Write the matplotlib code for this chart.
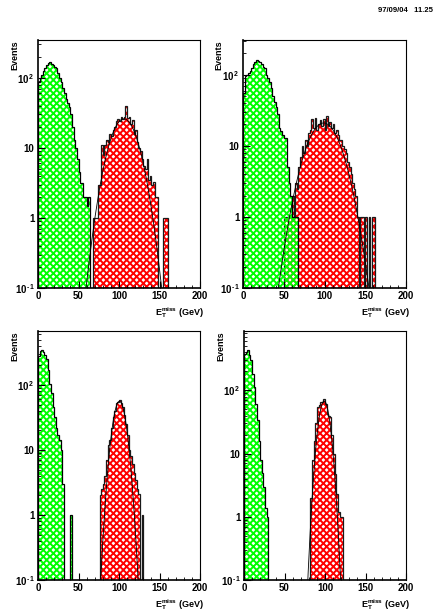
import numpy as np
import matplotlib
matplotlib.use("Agg")
import matplotlib.pyplot as plt
from matplotlib.ticker import FixedLocator, FixedFormatter, MultipleLocator, LogLocator, NullFormatter

plt.rcParams["font.family"] = ["Liberation Sans", "DejaVu Sans"]
plt.rcParams["font.weight"] = "bold"
plt.rcParams["mathtext.fontset"] = "custom"
plt.rcParams["mathtext.rm"] = "Liberation Sans:bold"
plt.rcParams["mathtext.it"] = "Liberation Sans:bold"
plt.rcParams["mathtext.bf"] = "Liberation Sans:bold"
plt.rcParams["mathtext.default"] = "rm"
plt.rcParams["hatch.linewidth"] = 1.4

BIN_WIDTH = 2.0  # GeV

# Background (green) and signal (red) missing-ET histograms, 2 GeV bins
green_tl_start = 0
green_tl = [88, 98, 110, 125, 140, 150, 165, 170, 160, 152, 145, 138, 118, 100, 88, 72,
            60, 50, 44, 38, 30, 20, 13, 10, 7, 4.5, 3.2, 3.2, 2, 2, 1.5, 2]
red_tl_start = 68
red_tl = [1, 1, 1, 3, 3, 11, 8, 11, 13, 12, 16, 15, 18, 20, 24, 26, 24, 28, 26, 28, 40, 27,
          28, 22, 25, 16, 18, 12, 10, 9, 7, 5.5, 5, 7, 3.5, 4, 3, 3.3, 2, 2, 0, 0, 0, 1, 1, 1]

green_tr_start = 0
green_tr = [55, 95, 100, 105, 115, 125, 140, 150, 160, 155, 150, 140, 130, 125, 100, 90,
            78, 65, 50, 42, 35, 28, 18, 16, 14, 13, 13, 5, 3, 2, 1, 1, 1, 1]
red_tr_start = 50
red_tr = [1, 1, 1, 1, 1, 2, 1, 3, 2.5, 5, 7, 10, 8, 12, 10, 15, 17, 24, 18, 25, 17, 20, 23,
          19, 24, 17, 26, 19, 22, 18, 20, 15, 17, 14, 12, 12, 10, 9, 8, 6, 5, 4, 3, 2.5, 2,
          1, 0, 1, 1, 0, 1, 0, 1, 0, 1, 1]

green_bl_start = 0
green_bl = [280, 330, 345, 320, 290, 250, 170, 105, 75, 46, 32, 22, 17, 14, 10, 3,
            0, 0, 0, 0, 1]
red_bl_start = 76
red_bl = [2, 2.5, 3, 4, 7, 12, 14, 22, 32, 40, 52, 55, 59, 52, 46, 35, 25, 17, 10, 8, 6,
          4.5, 3.5, 2.5, 2.1, 0, 1]

green_br_start = 0
green_br = [370, 400, 430, 360, 300, 180, 112, 62, 34, 16, 8, 5, 3, 1.4, 1]
red_br_start = 82
red_br = [2, 8, 16, 30, 54, 58, 65, 66, 73, 62, 43, 40, 38, 20, 10, 4.8, 2.3, 1.2, 1, 1]

# Gaussian fit parameters of the signal peak: (amplitude, mean, sigma)
fit_tl = (26, 106, 14)
fit_tr = (21, 99, 17)
fit_bl = (56, 100.5, 6.5)
fit_br = (68, 99, 5.6)

# upper edge of the log y range per pad
ytop = [10 ** 2.54, 10 ** 2.49, 10 ** 2.83, 10 ** 2.94]

x_ticks = [0, 50, 100, 150, 200]
y_ticks = [0.1, 1, 10, 100]
y_tick_labels = [r"$10^{\,\text{-}1}$", "1", "10", r"$10^{\,2}$"]

GREEN = "#00ff00"
RED = "#ff0000"

W, H = 436, 614
fig = plt.figure(figsize=(W / 100, H / 100), dpi=100)

pads = [
    (38, 200, 40, 288),
    (243, 406, 40, 288),
    (38, 200, 331, 580),
    (244, 406, 331, 580),
]

panels = [
    (green_tl_start, green_tl, red_tl_start, red_tl, fit_tl),
    (green_tr_start, green_tr, red_tr_start, red_tr, fit_tr),
    (green_bl_start, green_bl, red_bl_start, red_bl, fit_bl),
    (green_br_start, green_br, red_br_start, red_br, fit_br),
]


def draw_hist(ax, start, values, color, outline):
    vals = np.asarray(values, dtype=float)
    edges = start + BIN_WIDTH * np.arange(len(vals) + 1)
    ax.stairs(vals, edges, baseline=1e-3, fill=True, facecolor="none",
              edgecolor=color, hatch="xxxxx", linewidth=0)
    ax.stairs(vals, edges, baseline=1e-3, fill=False, color=outline, linewidth=0.9)


for i, ((l, r, t, b), (gs, gv, rs, rv, fit)) in enumerate(zip(pads, panels)):
    ax = fig.add_axes([l / W, 1 - b / H, (r - l) / W, (b - t) / H])
    ax.set_yscale("log")
    ax.set_xlim(0, 200)
    ax.set_ylim(0.1, ytop[i])

    draw_hist(ax, rs, rv, RED, "#1a1a1a")
    draw_hist(ax, gs, gv, GREEN, "black")

    amp, mu, sig = fit
    xf = np.linspace(mu - 5 * sig, mu + 5 * sig, 400)
    ax.plot(xf, amp * np.exp(-0.5 * ((xf - mu) / sig) ** 2), color="black", lw=0.6)

    ax.xaxis.set_major_locator(FixedLocator(x_ticks))
    ax.xaxis.set_minor_locator(MultipleLocator(10))
    ax.yaxis.set_major_locator(FixedLocator(y_ticks))
    ax.yaxis.set_major_formatter(FixedFormatter(y_tick_labels))
    ax.yaxis.set_minor_locator(LogLocator(base=10, subs=np.arange(2, 10)))
    ax.yaxis.set_minor_formatter(NullFormatter())
    ax.tick_params(which="both", direction="in", top=False, right=False, labelsize=7, pad=2.5)
    ax.tick_params(which="major", length=5, width=0.8)
    ax.tick_params(which="minor", length=2.5, width=0.6)
    for side in ("left", "bottom"):
        ax.spines[side].set_linewidth(1.2)
    for side in ("top", "right"):
        ax.spines[side].set_linewidth(0.8)
    for lab in ax.get_xticklabels() + ax.get_yticklabels():
        lab.set_fontweight("bold")

    ax.text(1.025, -0.10, r"$\mathrm{E_T^{miss}}$ (GeV)", transform=ax.transAxes,
            ha="right", va="center", fontsize=6.5, fontweight="bold")
    ax.text(-0.145, 1.0, "Events", transform=ax.transAxes, rotation=90,
            ha="center", va="top", fontsize=6.5, fontweight="bold")

fig.text(378 / W, 1 - 11 / H, "97/09/04   11.25", ha="left", va="center",
         fontsize=5.5, fontweight="bold")

fig.savefig("out.png", dpi=100)
